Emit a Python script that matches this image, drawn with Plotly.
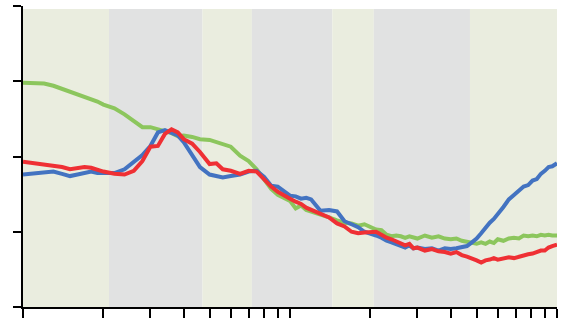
import plotly.graph_objects as go

# shared x positions (log axis, 1 .. 100)
x_vals = [1, 1.1, 1.2, 1.3, 1.4, 1.5, 1.6, 1.7, 1.8, 1.9,
          2, 2.2, 2.4, 2.6, 2.8, 3, 3.2, 3.4, 3.6, 3.8,
          4, 4.3, 4.6, 5, 5.3, 5.6, 6, 6.5, 7, 7.5,
          8, 8.5, 9, 9.5, 10, 10.5, 11, 11.5, 12, 13,
          14, 15, 16, 17, 18, 19, 20, 21, 22, 23,
          24, 25, 26, 27, 28, 29, 30, 32, 34, 36,
          38, 40, 42, 44, 46, 48, 50, 52, 54, 56,
          58, 60, 63, 66, 69, 72, 75, 78, 81, 84,
          87, 90, 93, 96, 100]

green_vals = [2.98, 2.98, 2.97, 2.94, 2.90, 2.86, 2.83, 2.79, 2.76, 2.73,
              2.69, 2.64, 2.56, 2.47, 2.39, 2.39, 2.36, 2.34, 2.31, 2.27,
              2.28, 2.26, 2.23, 2.22, 2.19, 2.17, 2.13, 2.01, 1.94, 1.83,
              1.70, 1.57, 1.49, 1.45, 1.41, 1.31, 1.35, 1.29, 1.27, 1.23,
              1.19, 1.15, 1.12, 1.11, 1.08, 1.10, 1.07, 1.03, 1.02, 0.96,
              0.94, 0.95, 0.94, 0.92, 0.94, 0.92, 0.91, 0.95, 0.92, 0.94,
              0.91, 0.90, 0.91, 0.88, 0.87, 0.86, 0.84, 0.86, 0.84, 0.87,
              0.85, 0.90, 0.88, 0.91, 0.92, 0.91, 0.95, 0.94, 0.95, 0.94,
              0.96, 0.95, 0.96, 0.95, 0.95]

blue_vals = [1.76, 1.77, 1.79, 1.80, 1.77, 1.74, 1.76, 1.78, 1.80, 1.78,
             1.78, 1.78, 1.83, 1.93, 2.02, 2.14, 2.32, 2.35, 2.32, 2.28,
             2.19, 2.01, 1.86, 1.76, 1.74, 1.72, 1.74, 1.76, 1.80, 1.81,
             1.73, 1.61, 1.60, 1.54, 1.48, 1.47, 1.44, 1.45, 1.43, 1.28,
             1.29, 1.27, 1.14, 1.10, 1.06, 1.00, 0.98, 0.95, 0.92, 0.88,
             0.86, 0.84, 0.82, 0.79, 0.82, 0.78, 0.79, 0.77, 0.78, 0.75,
             0.78, 0.77, 0.78, 0.79, 0.81, 0.86, 0.91, 0.98, 1.06, 1.12,
             1.17, 1.23, 1.33, 1.43, 1.49, 1.56, 1.60, 1.62, 1.68, 1.70,
             1.77, 1.81, 1.86, 1.87, 1.91]

red_vals = [1.93, 1.91, 1.90, 1.88, 1.86, 1.83, 1.85, 1.86, 1.85, 1.82,
            1.80, 1.77, 1.76, 1.81, 1.94, 2.13, 2.14, 2.30, 2.36, 2.32,
            2.23, 2.17, 2.06, 1.90, 1.91, 1.83, 1.81, 1.77, 1.81, 1.80,
            1.69, 1.60, 1.53, 1.49, 1.44, 1.40, 1.37, 1.32, 1.29, 1.24,
            1.19, 1.11, 1.07, 1.00, 0.98, 0.99, 1.00, 1.00, 0.96, 0.92,
            0.90, 0.87, 0.84, 0.82, 0.84, 0.78, 0.79, 0.75, 0.77, 0.74,
            0.73, 0.71, 0.73, 0.69, 0.67, 0.65, 0.62, 0.59, 0.62, 0.63,
            0.65, 0.63, 0.65, 0.66, 0.65, 0.67, 0.69, 0.70, 0.71, 0.73,
            0.75, 0.75, 0.79, 0.81, 0.83]

# shaded period bands along the x axis
band_edges = [1, 2.1, 4.7, 7.2, 14.4, 20.6, 47.2, 100]
band_colors = ["#eaeddf", "#e1e2e2"]
band_top = 3.96

x_tickvals = [1, 2, 3, 4, 5, 6, 7, 8, 9, 10,
              20, 30, 40, 50, 60, 70, 80, 90, 100]
y_tickvals = [0, 1, 2, 3, 4]

fig = go.Figure()

for i in range(len(band_edges) - 1):
    fig.add_shape(type="rect", xref="x", yref="y",
                  x0=band_edges[i], x1=band_edges[i + 1],
                  y0=0, y1=band_top,
                  fillcolor=band_colors[i % 2], line=dict(width=0), layer="below")

series = [("green", green_vals, "#8cc65d"),
          ("blue", blue_vals, "#4373c1"),
          ("red", red_vals, "#ef3034")]
for name, vals, color in series:
    fig.add_trace(go.Scatter(x=x_vals, y=vals, mode="lines", name=name,
                             line=dict(color=color, width=4, shape="linear"),
                             showlegend=False))

fig.update_xaxes(type="log", range=[0, 2], tickvals=x_tickvals,
                 showticklabels=False, ticks="outside", ticklen=9, tickwidth=2,
                 tickcolor="black", showline=True, linecolor="black", linewidth=2,
                 showgrid=False, zeroline=False)
fig.update_yaxes(range=[0, 4], tickvals=y_tickvals, showticklabels=False,
                 ticks="outside", ticklen=8, tickwidth=2, tickcolor="black",
                 showline=True, linecolor="black", linewidth=2,
                 showgrid=False, zeroline=False)

fig.update_layout(width=568, height=322,
                  margin=dict(l=23, r=11, t=6, b=12),
                  paper_bgcolor="white", plot_bgcolor="white")

fig.write_html("out.html")
